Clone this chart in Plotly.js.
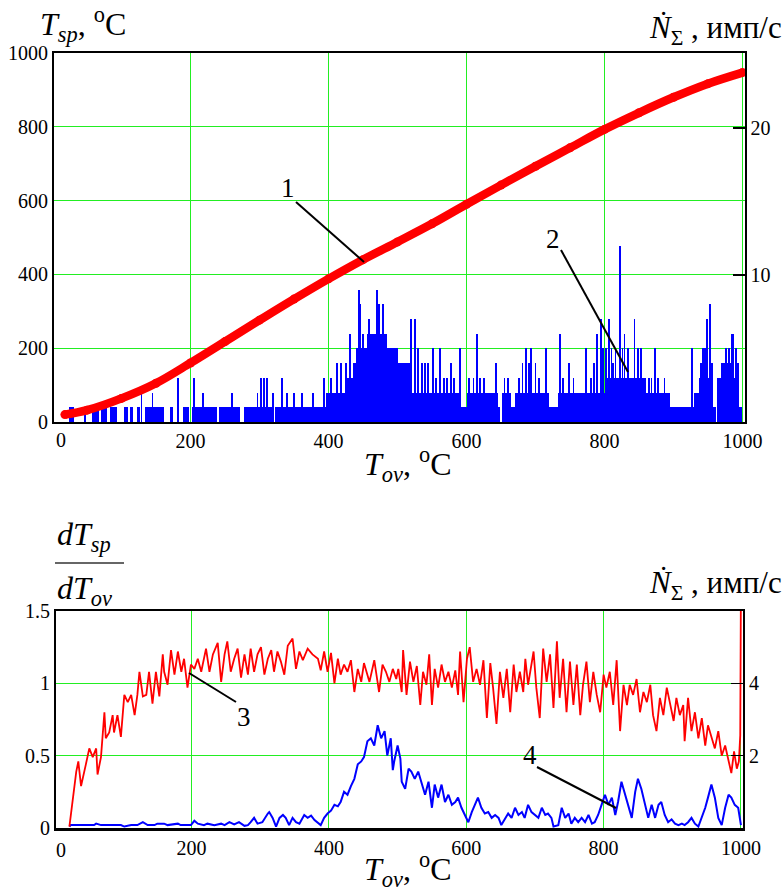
<!DOCTYPE html>
<html>
<head>
<meta charset="utf-8">
<script src="https://cdn.plot.ly/plotly-3.0.1.min.js"></script>
<style>html,body{margin:0;padding:0;background:#fff;}#chart{width:784px;height:891px;}</style>
</head>
<body>
<div id="chart"></div>
<script>
// ---------- top chart: T_sp vs T_ov (curve 1) ----------
const topT   = [18, 50, 100, 150, 200, 250, 300, 350, 400, 450, 500, 550, 600, 650, 700, 750, 800, 850, 900, 950, 1000];
const topTsp = [20, 32, 64, 105, 160, 218, 276, 333, 388, 440, 488, 537, 590, 642, 693, 743, 793, 838, 880, 917, 947];

// ---------- top chart: count rate (curve 2), filled segments ----------
const fillStart = [24,45,57,71,83,103,112,122,134,170,189,202,242,277,323,396,427,436,440,456,485,501,520,592,600,645,651,665,670,720,733,790,800,860,895,930,937,942,950,957,963,970,985,993];
const fillEnd   = [31,48,68,79,93,110,117,127,161,175,198,238,272,320,396,427,436,440,456,485,501,520,592,600,645,648,665,670,720,733,790,800,860,895,930,937,942,950,957,961,970,985,993,999];
const fillLevel = [1,1,1,1,1,1,1,1,1,1,1,1,1,1,1,2,3,4,5,6,5,4,2,1,2,1,2,1,2,1,2,2,3,2,1,2,3,5,3,1,3,4,3,1];
// isolated spikes of curve 2
const spikeT = [129,145,182,205,218,260,297,302,306,311,319,333,340,350,362,377,394,
  404,412,418,425,431,438,442,444,446.5,450,454,458.6,462,465,468,470,473,476,479.5,483,488,493,497,500,
  503,507,512,520,525,530,535,540,544,551,556,562,567,572,577,582,591,604,610,615,620,625,630,643,655,660,
  676,681,686,690,694,700,705,715,735,740,749,755,760,773,780,785,789.5,795,798,802,807,810,812,816,822,826,
  829,834,838,843.5,848,853,858,864,868,873,878,887,926.6,940,944,947,949,953,956,970,976,980,984,986,990,994];
const spikeN = [2,2,3,3,2,2,2,3,3,3,2,3,2,2,2,2,3,
  3,4,4,4,6,4,5,9,8,6,5,7,6,6,6,9,8,6,8,6,5,5,5,4,
  4,4,4,7,7,5,4,4,4,5,3,5,3,3,4,3,5,3,3,6,3,3,2,4,3,3,
  3,4,5,4,5,4,3,5,6,3,4,3,2,5,3,4,6,7,5,5,7,5,4,5,12,5,
  6,5,3,7,5,5,3,3,3,5,3,3,5,4,5,5,7,8,4,4,5,5,6,6,5,4];

// ---------- bottom chart: dT_sp/dT_ov (curve 3) ----------
const derT = [22,24,28,32,35,39,46,51,56,61,63,68,73,75,80,85,87,92,97,102,
  107,112,117,121,124,129,134,138,143,148,153,158,160,165,170,175,180,185,189,194,
  199,204,209,214,221,226,231,238,243,248,252,257,262,267,272,277,282,286,291,296,
  301,306,311,316,320,325,330,335,340,347,352,357,362,369,376,384,388,393,398,403,
  408,413,417,422,427,432,437,442,447,451,459,466,473,478,483,488,493,498,
  501,506,508,513,518,523,528,533,537,542,546,550,554,559,564,569,574,579,584,588,
  591,596,601,605,610,615,620,625,630,635,639,644,649,654,659,664,669,673,678,683,
  686,690,698,702,707,712,717,722,727,732,736,741,746,751,756,761,766,770,775,780,
  785,790,795,800,804,809,814,819,824,829,834,838,843,848,853,858,863,868,872,877,
  882,887,892,897,902,906,911,916,918,923,928,933,938,943,948,952,957,962,967,972,
  977,982,986,990,994,997,999,1000];
const derVal = [0.01,0.09,0.25,0.39,0.46,0.29,0.44,0.55,0.49,0.55,0.37,0.49,0.80,0.62,0.66,0.78,0.66,0.78,0.63,0.92,
  0.87,0.92,0.78,0.92,1.08,0.91,0.92,1.08,0.86,1.08,0.91,1.20,1.08,0.99,1.23,1.06,1.22,1.08,1.17,0.97,
  1.13,1.10,1.17,1.08,1.24,1.08,1.20,1.28,1.01,1.20,1.29,1.08,1.17,1.24,1.04,1.20,1.06,1.24,1.08,1.20,
  1.25,1.06,1.17,1.23,1.08,1.22,1.15,1.06,1.26,1.31,1.10,1.22,1.16,1.24,1.20,1.17,1.09,1.22,1.08,1.21,
  1.00,1.17,1.06,1.13,1.08,1.16,0.94,1.10,1.01,1.14,1.01,1.16,0.94,1.13,1.08,1.01,1.10,1.03,
  1.10,0.94,1.23,0.92,1.15,1.01,1.12,0.85,1.08,0.99,1.20,0.85,1.10,0.97,1.13,1.01,1.08,0.97,1.09,0.92,
  1.22,0.87,1.17,1.25,1.01,1.10,0.99,1.16,0.76,1.14,0.97,0.72,1.08,0.90,1.10,0.80,1.13,0.94,1.08,0.94,
  1.17,0.99,1.22,0.97,0.76,1.24,1.01,1.20,0.83,1.29,0.90,1.17,0.80,1.15,0.85,1.13,0.78,0.99,1.15,0.87,
  1.08,0.92,0.80,1.06,0.97,1.08,0.85,1.16,0.67,0.99,0.85,0.99,0.92,1.03,0.80,0.94,0.87,0.99,0.78,0.67,
  0.90,0.78,0.97,0.85,0.74,0.90,0.78,0.85,0.60,0.90,0.67,0.80,0.62,0.76,0.57,0.71,0.62,0.55,0.67,0.50,
  0.57,0.46,0.38,0.53,0.41,0.46,0.64,1.70];

// ---------- bottom chart: smoothed count rate (curve 4), imp/s ----------
const rateT = [22,24,29,39,49,58,61,68,78,87,97,102,112,121,129,136,146,150,160,165,
  180,184,199,204,209,218,223,233,243,248,255,262,269,277,282,286,291,296,303,311,
  313,318,323,328,333,337,342,347,352,357,362,364,369,374,379,383,388,393,398,403,
  408,413,417,422,427,432,437,442,447,451,456,461,466,471,476,481,485,490,493,495,500,504,
  506,511,516,520,525,530,535,540,545,550,554,559,564,569,574,579,584,588,593,598,
  603,608,613,617,622,627,632,637,642,647,651,656,661,666,671,676,681,685,690,695,
  700,705,710,715,719,724,727,734,739,744,749,753,758,763,768,773,778,783,787,792,
  797,802,807,812,817,821,826,831,836,841,846,850,855,860,865,870,875,880,884,889,
  894,899,904,909,914,918,923,928,933,938,943,948,952,957,962,967,972,977,982,986,
  991,996,1000];
const rateVal = [0.04,0.08,0.08,0.08,0.08,0.08,0.12,0.08,0.08,0.08,0.08,0.04,0.08,0.08,0.16,0.08,0.08,0.12,0.12,0.08,
  0.12,0.08,0.08,0.2,0.12,0.08,0.12,0.08,0.12,0.08,0.16,0.1,0.16,0.06,0.08,0.16,0.28,0.12,0.16,0.4,
  0.44,0.28,0.04,0.28,0.36,0.28,0.08,0.28,0.16,0.12,0.28,0.36,0.28,0.34,0.22,0.16,0.08,0.28,0.4,0.48,
  0.64,0.6,0.72,1.0,0.92,1.16,1.36,1.76,1.84,1.96,2.4,2.48,2.28,2.84,2.48,2.68,2.0,2.48,1.6,1.84,2.28,1.92,
  1.28,1.08,1.64,1.56,1.36,1.56,1.2,0.92,1.28,0.56,1.2,0.84,1.2,0.72,0.92,0.64,0.72,0.84,0.56,0.36,
  0.16,0.44,0.64,0.84,0.56,0.4,0.44,0.28,0.36,0.28,0.08,0.24,0.4,0.28,0.56,0.36,0.44,0.28,0.64,0.44,
  0.36,0.28,0.56,0.36,0.4,0.28,0.04,0.08,0.56,0.28,0.4,0.12,0.28,0.16,0.28,0.16,0.36,0.12,0.16,0.36,
  0.64,0.92,0.64,0.84,0.36,0.72,1.28,0.92,0.64,0.28,1.0,1.36,1.08,0.64,0.28,0.64,0.28,0.64,0.72,0.36,
  0.16,0.24,0.12,0.08,0.12,0.08,0.16,0.28,0.12,0.04,0.28,0.56,0.84,1.2,0.84,0.28,0.08,0.56,0.92,0.84,
  0.64,0.56,0.08];

// ---------- tick labels ----------
const xTicks = [200, 400, 600, 800, 1000];
const topLeftTicks = [0, 200, 400, 600, 800, 1000];
const topRightTicks = [10, 20];
const botLeftTicks = [0, 0.5, 1, 1.5];
const botLeftText = ['0', '0.5', '1', '1.5'];
const botRightTicks = [2, 4];

// ---------- drawing ----------
const W = 784, H = 891;
const px = v => v / W, py = v => 1 - v / H;
const SERIF = 'Liberation Serif';
const GRID = '#22ee22';
const tf = () => ({family: 'Liberation Serif', size: 20, color: '#000000'});

const fillMid = fillStart.map((s, i) => (s + fillEnd[i]) / 2);
const fillW = fillStart.map((s, i) => fillEnd[i] - s);

const traces = [
  {type: 'bar', x: fillMid, y: fillLevel, width: fillW, xaxis: 'x', yaxis: 'y',
   marker: {color: '#0000ff', line: {width: 0}}, hoverinfo: 'skip'},
  {type: 'bar', x: spikeT, y: spikeN, width: spikeT.map(() => 2.6), xaxis: 'x', yaxis: 'y',
   marker: {color: '#0000ff', line: {width: 0}}, hoverinfo: 'skip'},
  {type: 'scatter', mode: 'lines+markers', x: topT, y: topTsp, xaxis: 'x', yaxis: 'y2',
   line: {color: '#ff0000', width: 8.5, shape: 'spline'}, marker: {color: '#ff0000', size: 9}},
  {type: 'scatter', mode: 'lines', x: rateT, y: rateVal, xaxis: 'x2', yaxis: 'y3',
   line: {color: '#0000ff', width: 2}},
  {type: 'scatter', mode: 'lines', x: derT, y: derVal, xaxis: 'x2', yaxis: 'y4',
   line: {color: '#ff0000', width: 1.8}}
];

const gap = (x0, y0, x1, y1) => ({type: 'rect', xref: 'paper', yref: 'paper', layer: 'between',
  x0: px(x0), y0: py(y1), x1: px(x1), y1: py(y0), fillcolor: '#fff', line: {width: 0}});

const layout = {
  width: W, height: H, margin: {l: 0, r: 0, t: 0, b: 0},
  paper_bgcolor: '#fff', plot_bgcolor: '#fff', showlegend: false,
  font: {family: SERIF, size: 20, color: '#000000'},
  barmode: 'overlay', bargap: 0,
  xaxis: {domain: [px(54), px(745)], range: [2.2, 1003.6], anchor: 'y',
    tickvals: xTicks, showgrid: true, gridcolor: GRID, gridwidth: 1, zeroline: false,
    showline: true, linecolor: '#000', linewidth: 2, mirror: true, ticks: '', tickfont: tf()},
  yaxis: {domain: [py(422), py(53)], range: [0, 25.1], side: 'right', anchor: 'x',
    tickvals: topRightTicks, ticks: 'inside', ticklen: 12, tickwidth: 1.5, tickcolor: '#000',
    showgrid: false, zeroline: false, showline: true, linecolor: '#000', linewidth: 1.5, tickfont: tf()},
  yaxis2: {overlaying: 'y', side: 'left', anchor: 'x', range: [0, 1000], tickvals: topLeftTicks,
    showgrid: true, gridcolor: GRID, gridwidth: 1, zeroline: false, ticks: '',
    showline: true, linecolor: '#000', linewidth: 2, tickfont: tf()},
  xaxis2: {domain: [px(56), px(743)], range: [2.5, 1003], anchor: 'y3',
    tickvals: xTicks, showgrid: true, gridcolor: GRID, gridwidth: 1, zeroline: false,
    showline: true, linecolor: '#000', linewidth: 2.5, mirror: true, ticks: '', tickfont: tf()},
  yaxis3: {domain: [py(828), py(611)], range: [0, 6], side: 'right', anchor: 'x2',
    tickvals: botRightTicks, ticks: 'inside', ticklen: 12, tickwidth: 1.5, tickcolor: '#000',
    showgrid: false, zeroline: false, showline: true, linecolor: '#000', linewidth: 2, tickfont: tf()},
  yaxis4: {overlaying: 'y3', side: 'left', anchor: 'x2', range: [0, 1.5], tickvals: botLeftTicks, ticktext: botLeftText,
    showgrid: true, gridcolor: GRID, gridwidth: 1, zeroline: false, ticks: '',
    showline: true, linecolor: '#000', linewidth: 2, tickfont: tf()},
  shapes: [
    // white breaks in the grid lines
    gap(238, 199, 271, 205),
    gap(326, 155, 332, 180),
    gap(484, 752, 578, 760),
    // leader lines of the curve numbers
    {type: 'line', xref: 'paper', yref: 'paper', x0: px(296), y0: py(202), x1: px(364), y1: py(262), line: {color: '#000', width: 2}},
    {type: 'line', xref: 'paper', yref: 'paper', x0: px(561), y0: py(250), x1: px(628), y1: py(372), line: {color: '#000', width: 2}},
    {type: 'line', xref: 'paper', yref: 'paper', x0: px(236), y0: py(702), x1: px(189), y1: py(673), line: {color: '#000', width: 2}},
    {type: 'line', xref: 'paper', yref: 'paper', x0: px(537), y0: py(767), x1: px(616), y1: py(808), line: {color: '#000', width: 2}},
    // fraction bar of dT_sp/dT_ov
    {type: 'line', xref: 'paper', yref: 'paper', x0: px(55), y0: py(563), x1: px(124), y1: py(563), line: {color: '#333', width: 1.5}}
  ],
  annotations: []
};

function ann(text, x, y, size, xanchor) {
  layout.annotations.push({text: text, xref: 'paper', yref: 'paper', x: px(x), y: py(y),
    xanchor: xanchor || 'center', yanchor: 'middle', showarrow: false,
    font: {family: SERIF, size: size, color: '#000000'}});
}
ann('<i>T</i><sub><i>sp</i></sub>, <sup>o</sup>C', 38, 25, 32, 'left');
ann('<i>Ṅ</i><sub>Σ</sub> , имп/с', 784, 30, 31, 'right');
ann('<i>T</i><sub><i>ov</i></sub>, <sup>o</sup>C', 362, 465, 32, 'left');
ann('<i>dT</i><sub><i>sp</i></sub>', 55, 536, 32, 'left');
ann('<i>dT</i><sub><i>ov</i></sub>', 55, 590, 32, 'left');
ann('<i>Ṅ</i><sub>Σ</sub> , имп/с', 784, 585, 31, 'right');
ann('<i>T</i><sub><i>ov</i></sub>, <sup>o</sup>C', 362, 869, 32, 'left');
ann('0', 61, 440, 20);
ann('0', 61, 850, 20);
ann('1', 288, 188, 27);
ann('2', 553, 239, 27);
ann('3', 244, 717, 27);
ann('4', 530, 755, 27);

Plotly.newPlot('chart', traces, layout, {staticPlot: true, displayModeBar: false});
</script>
</body>
</html>
